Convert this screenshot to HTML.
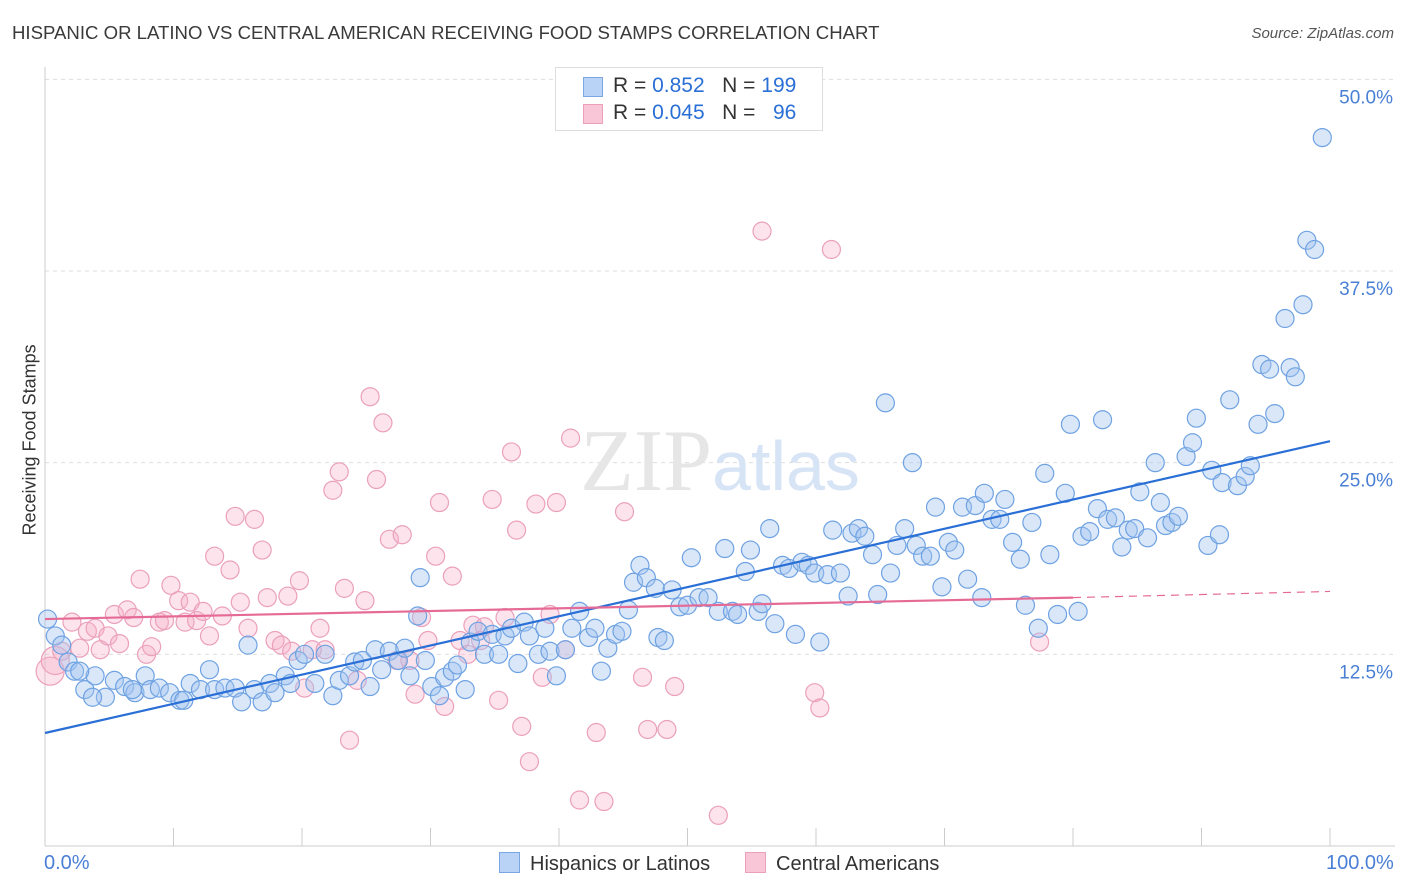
<!DOCTYPE html>
<html><head><meta charset="utf-8">
<style>
body{margin:0;background:#fff;font-family:"Liberation Sans",sans-serif;}
#wrap{position:relative;width:1406px;height:892px;overflow:hidden;}
.t{position:absolute;white-space:nowrap;}
</style></head><body>
<div id="wrap">
<div class="t" style="left:12px;top:22px;font-size:18.6px;color:#3a3a3a;">HISPANIC OR LATINO VS CENTRAL AMERICAN RECEIVING FOOD STAMPS CORRELATION CHART</div>
<div class="t" style="right:12px;top:25px;font-size:15px;color:#555;font-style:italic;">Source: ZipAtlas.com</div>
<div class="t" style="left:-50px;top:445px;font-size:18px;color:#333;transform:rotate(-90deg);transform-origin:center;width:160px;text-align:center;">Receiving Food Stamps</div>
<svg id="svg" width="1406" height="892" style="position:absolute;left:0;top:0;"></svg>
</div>
<script>
const blueX=[0.2,0.8,1.3,1.8,2.3,3.1,3.9,4.7,5.4,6.2,7.0,7.8,8.2,8.9,9.7,10.5,11.3,12.1,12.8,13.2,14.0,14.8,15.3,15.8,16.3,16.9,17.5,17.9,18.7,19.1,19.7,20.2,21.0,21.8,22.4,22.9,23.7,24.1,24.7,25.3,25.7,26.2,26.8,27.5,28.0,28.4,29.0,29.2,29.6,30.1,30.7,31.1,31.7,32.1,32.7,33.1,33.7,34.2,34.8,35.3,35.8,36.3,36.8,37.3,37.7,38.4,38.9,39.3,39.8,40.5,41.0,41.6,42.3,42.8,43.3,43.8,44.4,44.9,45.4,45.8,46.3,46.8,47.5,47.7,48.2,48.8,49.4,50.0,50.3,50.9,51.6,52.4,52.9,53.5,53.9,54.5,54.9,55.5,55.8,56.4,56.8,57.4,57.9,58.4,58.9,59.4,59.9,60.3,60.9,61.3,61.9,62.5,62.8,63.3,63.8,64.4,64.8,65.4,65.8,66.3,66.9,67.5,67.8,68.3,68.9,69.3,69.8,70.3,70.8,71.4,71.8,72.4,72.9,73.1,73.7,74.3,74.7,75.3,75.9,76.3,76.8,77.3,77.8,78.2,78.8,79.4,79.8,80.4,80.7,81.3,81.9,82.3,82.7,83.3,83.8,84.3,84.8,85.2,85.8,86.4,86.8,87.2,87.7,88.2,88.8,89.3,89.6,90.5,90.8,91.4,91.6,92.2,92.8,93.4,93.8,94.4,94.7,95.3,95.7,96.5,96.9,97.3,97.9,98.2,98.8,99.4,3.7,6.8,2.7,10.8];
const blueY=[14.8,13.7,13.1,12.0,11.4,10.2,11.1,9.7,10.8,10.4,10.0,11.1,10.2,10.3,10.0,9.5,10.6,10.2,11.5,10.2,10.3,10.3,9.4,13.1,10.2,9.4,10.6,10.0,11.1,10.6,12.1,12.5,10.6,12.5,9.8,10.8,11.1,12.0,12.1,10.4,12.8,11.5,12.7,12.1,12.9,11.1,15.0,17.5,12.1,10.4,9.8,11.0,11.4,11.8,10.2,13.3,14.0,12.5,13.8,12.5,13.7,14.2,11.9,14.6,13.7,12.5,14.2,12.7,11.1,12.8,14.2,15.3,13.6,14.2,11.4,12.9,13.8,14.0,15.4,17.2,18.3,17.5,16.8,13.6,13.4,16.7,15.6,15.7,18.8,16.2,16.2,15.3,19.4,15.3,15.1,17.9,19.3,15.3,15.8,20.7,14.5,18.3,18.1,13.8,18.5,18.3,17.8,13.3,17.7,20.6,17.8,16.3,20.4,20.7,20.2,19.0,16.4,28.9,17.8,19.6,20.7,25.0,19.6,18.9,18.9,22.1,16.9,19.8,19.3,22.1,17.4,22.2,16.2,23.0,21.3,21.3,22.6,19.8,18.7,15.7,21.1,14.2,24.3,19.0,15.1,23.0,27.5,15.3,20.2,20.5,22.0,27.8,21.3,21.4,19.5,20.6,20.7,23.1,20.1,25.0,22.4,20.9,21.1,21.5,25.4,26.3,27.9,19.6,24.5,20.3,23.7,29.1,23.5,24.1,24.8,27.5,31.4,31.1,28.2,34.4,31.2,30.6,35.3,39.5,38.9,46.2,9.7,10.2,11.4,9.5];
const pinkX=[0.4,0.8,1.3,2.1,2.7,3.3,3.9,4.3,4.9,5.4,5.8,6.4,6.9,7.4,7.9,8.3,8.9,9.3,9.8,10.4,10.9,11.3,11.8,12.3,12.8,13.2,13.8,14.4,14.8,15.2,15.8,16.3,16.9,17.3,17.9,18.4,18.9,19.2,19.8,20.2,20.8,21.4,21.8,22.4,22.9,23.3,23.7,24.3,24.9,25.3,25.8,26.3,26.8,27.4,27.8,28.4,28.8,29.3,29.8,30.4,30.7,31.1,31.7,32.3,32.9,33.3,33.9,34.2,34.8,35.3,35.8,36.3,36.7,37.1,37.7,38.2,38.7,39.3,39.8,40.5,40.9,41.6,42.9,43.5,45.1,46.5,46.9,48.4,49.0,52.4,55.8,59.9,60.3,61.2,77.4];
const pinkY=[11.4,12.1,12.7,14.6,12.9,14.0,14.2,12.8,13.7,15.1,13.2,15.4,14.9,17.4,12.5,13.0,14.6,14.7,17.0,16.0,14.6,15.9,14.7,15.3,13.7,18.9,15.0,18.0,21.5,15.9,14.2,21.3,19.3,16.2,13.4,13.1,16.3,12.7,17.3,10.3,12.8,14.2,12.8,23.2,24.4,16.8,6.9,10.8,16.0,29.3,23.9,27.6,20.0,12.1,20.3,12.1,9.9,14.9,13.4,18.9,22.4,9.1,17.6,13.4,12.5,14.4,13.4,14.3,22.6,9.5,14.9,25.7,20.6,7.8,5.5,22.3,11.0,15.1,22.4,12.8,26.6,3.0,7.4,2.9,21.8,11.0,7.6,7.6,10.4,2.0,40.1,10.0,9.0,38.9,13.3];
const blueTrend=[7.37,26.4];
const pinkTrend=[14.8,16.2,16.6];
const yTicks=[12.5,25.0,37.5,50.0];

const X0=45,X1=1330,YB=846,PPY=191.67/12.5;
const xs=v=>X0+(X1-X0)*v/100;
const ys=v=>YB-v*PPY;
const svg=document.getElementById('svg');
const NS='http://www.w3.org/2000/svg';
function mk(tag,attrs,parent){const e=document.createElementNS(NS,tag);for(const k in attrs)e.setAttribute(k,attrs[k]);(parent||svg).appendChild(e);return e;}

yTicks.forEach(t=>{
  const g=mk('line',{x1:45,x2:1395,y1:ys(t),y2:ys(t),stroke:'#dedede','stroke-dasharray':'4,4'});
  
  
  const tx=mk('text',{x:1393,y:ys(t)+24,'text-anchor':'end','font-size':19,fill:'#4a7fd6','font-family':'Liberation Sans'});
  tx.textContent=t.toFixed(1)+'%';
  
  
});
mk('line',{x1:45,x2:45,y1:67,y2:846,stroke:'#ccc'});
mk('line',{x1:45,x2:1395,y1:846,y2:846,stroke:'#ccc'});
for(let i=0;i<=10;i++){const t=mk('line',{x1:xs(i*10),x2:xs(i*10),y1:828,y2:846,stroke:'#ccc'});

}
const wm=mk('text',{x:720,y:490,'text-anchor':'middle','font-size':88,'font-family':'Liberation Serif',fill:'#e6e6e6'});
wm.innerHTML='<tspan>ZIP</tspan><tspan fill="#d6e4f6" font-family="Liberation Sans" font-size="70">atlas</tspan>';



pinkX.forEach((x,i)=>{
  const r=i<2?14:9;
  const c=mk('circle',{cx:xs(x),cy:ys(pinkY[i]),r:r,fill:'rgba(247,176,200,0.35)',stroke:'#eba0bb','stroke-width':1.2});
  
  
});
blueX.forEach((x,i)=>{
  const c=mk('circle',{cx:xs(x),cy:ys(blueY[i]),r:9,fill:'rgba(160,196,240,0.4)',stroke:'#6fa2e2','stroke-width':1.2});
  
  
});
const bl=mk('line',{x1:xs(0),y1:ys(blueTrend[0]),x2:xs(100),y2:ys(blueTrend[1]),stroke:'#2a6fd6','stroke-width':2.2});


const pl=mk('line',{x1:xs(0),y1:ys(pinkTrend[0]),x2:xs(80),y2:ys(pinkTrend[1]),stroke:'#e56b96','stroke-width':2.2});


const pd=mk('line',{x1:xs(80),y1:ys(pinkTrend[1]),x2:xs(100),y2:ys(pinkTrend[2]),stroke:'#e56b96','stroke-width':1.2,'stroke-dasharray':'8,6'});


</script>
<div class="t" style="left:44px;top:852px;font-size:20px;color:#4a7fd6;">0.0%</div>
<div class="t" style="left:1326px;top:852px;font-size:20px;color:#4a7fd6;">100.0%</div>
<div style="position:absolute;left:555px;top:67px;width:266px;height:62px;border:1px solid #ddd;background:#fff;font-size:21px;color:#333;">
  <div style="position:absolute;left:27px;top:9px;width:18px;height:18px;background:#b8d3f5;border:1px solid #7aa7e3;"></div>
  <div class="t" style="left:57px;top:6px;">R = <span style="color:#2a6fd6">0.852</span>&nbsp;&nbsp;&nbsp;N = <span style="color:#2a6fd6">199</span></div>
  <div style="position:absolute;left:27px;top:36px;width:18px;height:18px;background:#f8c6d6;border:1px solid #eba0bb;"></div>
  <div class="t" style="left:57px;top:33px;">R = <span style="color:#2a6fd6">0.045</span>&nbsp;&nbsp;&nbsp;N = &nbsp;&nbsp;<span style="color:#2a6fd6">96</span></div>
</div>
<div style="position:absolute;left:499px;top:852px;font-size:20px;color:#333;">
  <span style="display:inline-block;width:19px;height:19px;background:#b8d3f5;border:1px solid #7aa7e3;vertical-align:-3px;margin-right:10px;"></span>Hispanics or Latinos</div>
<div style="position:absolute;left:745px;top:852px;font-size:20px;color:#333;">
  <span style="display:inline-block;width:19px;height:19px;background:#f8c6d6;border:1px solid #eba0bb;vertical-align:-3px;margin-right:10px;"></span>Central Americans</div>
</body></html>
